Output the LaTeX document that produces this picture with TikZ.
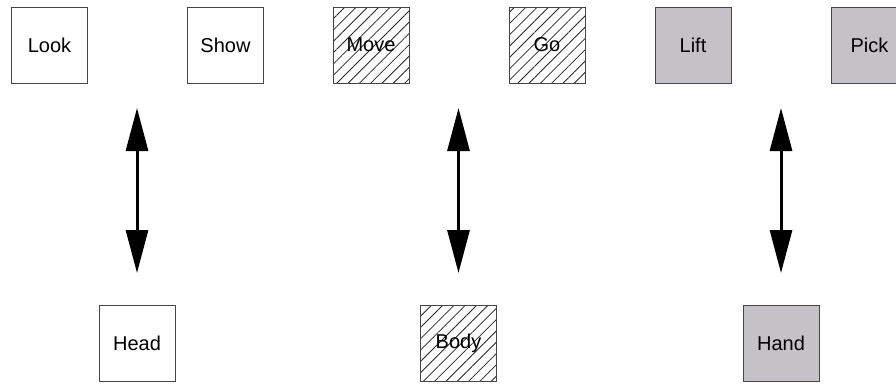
\documentclass[tikz,border=0pt]{standalone}
\usepackage{fontspec}
\setmainfont{Liberation Sans}
\usetikzlibrary{arrows.meta,patterns.meta}
\definecolor{boxline}{RGB}{70,70,70}
\definecolor{boxgray}{RGB}{196,194,198}
\tikzset{
  box/.style={draw=boxline, line width=1pt, minimum size=76pt, inner sep=0pt,
    font=\fontsize{20}{24}\selectfont},
  plainbox/.style={box, fill=white},
  hatchbox/.style={box, pattern={Lines[angle=45,distance=8pt,line width=0.8pt]}, pattern color=black!85},
  graybox/.style={box, fill=boxgray},
  biarrow/.style={line width=3pt, {Triangle[length=43pt,width=22pt]}-{Triangle[length=43pt,width=22pt]}}
}
\begin{document}
\begin{tikzpicture}[x=1pt,y=-1pt]
\clip (0,0) rectangle (896,386);
\fill[white] (0,0) rectangle (896,386);
% top row
\node[plainbox] (look) at (49.5,45) {Look};
\node[plainbox] (show) at (225.5,45) {Show};
\node[hatchbox] (move) at (371,45) {Move};
\node[hatchbox] (go) at (547,45) {Go};
\node[graybox] (lift) at (693,45) {Lift};
\node[graybox] (pick) at (869.5,45) {Pick};
% bottom row
\node[plainbox] (head) at (137,343.5) {Head};
\node[hatchbox] (body) at (458.5,343.5) {Body};
\node[graybox] (hand) at (781,343.5) {Hand};
% arrows
\coordinate (a1t) at (137,108); \coordinate (a1b) at (137,273);
\coordinate (a2t) at (458.5,108); \coordinate (a2b) at (458.5,273);
\coordinate (a3t) at (781,108); \coordinate (a3b) at (781,273);
\draw[biarrow] (a1t) -- (a1b);
\draw[biarrow] (a2t) -- (a2b);
\draw[biarrow] (a3t) -- (a3b);
\end{tikzpicture}
\end{document}
